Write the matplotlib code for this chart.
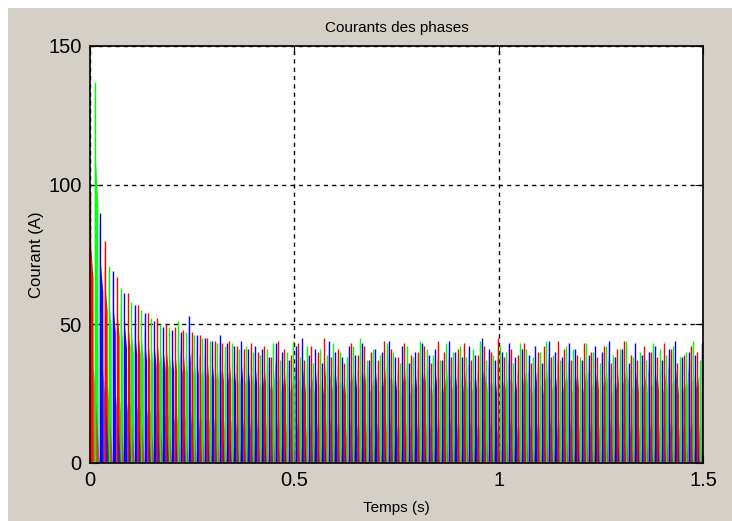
import numpy as np
import matplotlib
matplotlib.use("Agg")
import matplotlib.pyplot as plt
from matplotlib.patches import Rectangle
from matplotlib.collections import PolyCollection

# Période électrique de chaque phase (ms) pendant le démarrage, puis en régime
periodes_demarrage_ms = [36, 30, 27, 25, 24, 23, 22, 21, 20.5, 20, 19.5, 19,
                         18.5, 18, 17.8, 17.6, 17.4, 17.2, 17]
periode_regime_ms = 16.3

# Courant crête (A) de chaque impulsion, par phase
crete_a = [98, 80, 67, 61, 57, 54, 52, 50, 49, 48, 47, 46, 45, 44, 43, 44, 42, 41, 43,
           40, 42, 38, 44, 41, 39, 43, 37, 42, 40, 45, 38, 41, 36, 43, 39, 42, 40, 37, 44,
           41, 38, 43, 39, 40, 42, 36, 44, 40, 38, 41, 43, 37, 39, 42, 40, 45, 38, 41, 39,
           43, 36, 40, 42, 38, 44, 41, 37, 39, 43, 40, 38, 42, 36, 41, 44, 39, 37, 42, 40,
           38, 43, 41, 36, 39, 42, 40, 37, 41]
crete_b = [137, 71, 63, 58, 55, 52, 50, 49, 51, 47, 46, 45, 44, 43, 42, 43, 41, 42, 40,
           39, 41, 43, 37, 40, 44, 38, 42, 36, 41, 39, 43, 40, 38, 42, 45, 37, 41, 39, 43,
           40, 36, 42, 38, 44, 41, 39, 37, 43, 40, 42, 38, 41, 44, 37, 39, 42, 40, 36, 43,
           41, 38, 40, 44, 39, 37, 42, 41, 38, 43, 40, 36, 42, 39, 41, 44, 38, 40, 37, 43,
           41, 39, 42, 38, 40, 44, 37, 41, 39]
crete_c = [90, 69, 61, 57, 54, 51, 49, 48, 47, 53, 46, 45, 44, 46, 43, 42, 44, 41, 42,
           41, 38, 43, 40, 37, 42, 45, 39, 41, 36, 44, 40, 38, 42, 39, 43, 37, 41, 40, 44,
           38, 42, 36, 40, 43, 39, 41, 37, 44, 40, 38, 42, 39, 45, 41, 37, 40, 43, 38, 41,
           39, 42, 36, 44, 40, 38, 43, 41, 37, 39, 42, 40, 44, 38, 41, 36, 43, 39, 40, 42,
           37, 41, 44, 38, 40, 39, 43, 37, 42]

t_fin = 1.5
couleurs = {"a": "#ff0000", "b": "#00ff00", "c": "#0000ff"}

# Forme d'une impulsion (temps en fraction de la fenêtre de conduction T/3,
# courant en fraction de la crête) : montée, pic, palier, extinction
forme_corps_t = [0.0, 0.0, 0.06, 0.20, 0.72, 0.78]
forme_corps_i = [0.0, 1.0, 0.86, 0.80, 0.68, 0.0]
# queue de démagnétisation après l'extinction
forme_queue_t = [0.7, 0.7, 0.9, 2.0]
forme_queue_i = [0.0, 0.36, 0.32, 0.0]


def debuts_impulsions(n):
    per = list(periodes_demarrage_ms) + [periode_regime_ms] * (n - len(periodes_demarrage_ms))
    per = np.array(per) / 1000.0
    debuts = np.concatenate([[0.0], np.cumsum(per)[:-1]])
    return debuts, per


def polygones(cretes, decalage, ft_list, fi_list):
    debuts, per = debuts_impulsions(len(cretes))
    polys = []
    for t0, T, p in zip(debuts, per, cretes):
        t0 = t0 + decalage * T
        if t0 > t_fin:
            break
        w = T / 3
        polys.append([(min(t0 + ft * w, t_fin), fi * p) for ft, fi in zip(ft_list, fi_list)])
    return polys


fig = plt.figure(figsize=(7.32, 5.21), dpi=100, facecolor="white")
fig.patches.append(Rectangle((8 / 732, 0), 1, 513 / 521, transform=fig.transFigure,
                             facecolor="#d4d0c8", edgecolor="none", zorder=-10))
ax = fig.add_axes([90 / 732, 58 / 521, 613 / 732, 417 / 521])
ax.set_facecolor("white")

phases = {"a": (crete_a, 0.0), "b": (crete_b, 1 / 3), "c": (crete_c, 2 / 3)}
ordre = ["b", "c", "a"]
for n, k in enumerate(ordre):
    cretes, dec = phases[k]
    coul = couleurs[k]
    corps = polygones(cretes, dec, forme_corps_t, forme_corps_i)
    ax.add_collection(PolyCollection(corps, facecolors=coul, edgecolors="none",
                                     alpha=0.95, zorder=2 + n))
    for pts in corps:
        ax.plot([pts[0][0], pts[1][0]], [0, pts[1][1]], color=coul,
                linewidth=1.0, zorder=6, solid_capstyle="butt")
# queues des phases a et c au premier plan dans la zone basse
for k in ["a", "c"]:
    cretes, dec = phases[k]
    queues = polygones(cretes, dec, forme_queue_t, forme_queue_i)
    ax.add_collection(PolyCollection(queues, facecolors=couleurs[k], edgecolors="none",
                                     alpha=0.6, zorder=5))

ax.set_xlim(0, 1.5)
ax.set_ylim(0, 150)
ax.set_xticks([0, 0.5, 1, 1.5])
ax.set_xticklabels(["0", "0.5", "1", "1.5"])
ax.set_yticks([0, 50, 100, 150])
ax.grid(True, color="black", linestyle=(0, (3, 3)), linewidth=1.0, zorder=1)
ax.set_axisbelow(True)
ax.tick_params(direction="in", length=6, top=True, right=True, labelsize=14.5,
               pad=6, colors="black")
for s in ax.spines.values():
    s.set_linewidth(1.2)
    s.set_color("black")
    s.set_zorder(10)

fam = ["Liberation Sans", "DejaVu Sans"]
for lab in ax.get_xticklabels() + ax.get_yticklabels():
    lab.set_family(fam)
ax.set_title("Courants des phases", fontsize=11, family=fam, pad=10)
ax.set_xlabel("Temps (s)", fontsize=11, family=fam, labelpad=8)
ax.set_ylabel("Courant (A)", fontsize=12, family=fam, labelpad=3)

fig.savefig("out.png", dpi=100, facecolor=fig.get_facecolor())
